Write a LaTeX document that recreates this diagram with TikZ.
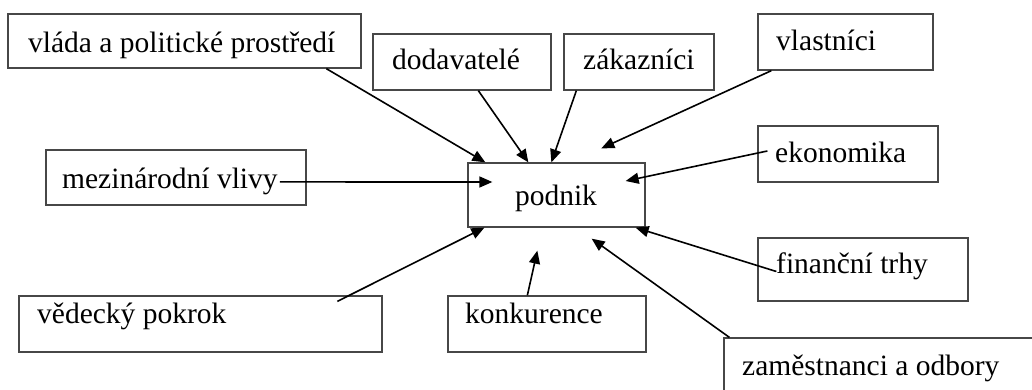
\documentclass[tikz,border=0pt]{standalone}
\usepackage{fontspec}
\setmainfont{Liberation Serif}
\usetikzlibrary{arrows.meta,calc}
\begin{document}
\begin{tikzpicture}[x=1pt,y=-1pt,
  box/.style={draw=black!72,line width=1.3pt,rectangle,inner sep=0pt},
  lbl/.style={anchor=base west,inner sep=0pt,font=\fontsize{29.5}{34}\selectfont},
  arr/.style={line width=1.6pt,-{Triangle[length=13pt,width=11pt]}}]
\useasboundingbox (0,0) rectangle (1032,390);
% boxes
\node[box,minimum width=353pt,minimum height=54pt] (vlada) at (184.5,41) {};
\node[box,minimum width=178pt,minimum height=56pt] (dodav) at (462,62) {};
\node[box,minimum width=150pt,minimum height=56pt] (zakaz) at (639,62) {};
\node[box,minimum width=175pt,minimum height=56pt] (vlast) at (845.5,42) {};
\node[box,minimum width=180pt,minimum height=56pt] (ekon) at (848,154) {};
\node[box,minimum width=260pt,minimum height=55pt] (mezin) at (176,177.5) {};
\node[box,minimum width=177pt,minimum height=64pt] (podnik) at (556.5,195) {};
\node[box,minimum width=363pt,minimum height=56pt] (vedec) at (200.5,324) {};
\node[box,minimum width=198pt,minimum height=56pt] (konk) at (547,324) {};
\node[box,minimum width=210pt,minimum height=63pt] (financ) at (863,269.5) {};
\node[box,minimum width=336pt,minimum height=72pt] (zamest) at (892,374) {};
% texts
\node[lbl] (vladaT) at (28,53) {vláda a politické prostředí};
\node[lbl] (dodavT) at (392,70) {dodavatelé};
\node[lbl] (zakazT) at (583,70) {zákazníci};
\node[lbl] (vlastT) at (776,51) {vlastníci};
\node[lbl] (ekonT) at (775,163) {ekonomika};
\node[lbl] (mezinT) at (62,189) {mezinárodní vlivy};
\node[lbl,anchor=base] (podnikT) at (556,205) {podnik};
\node[lbl] (vedecT) at (37,323) {vědecký pokrok};
\node[lbl] (konkT) at (465,323) {konkurence};
\node[lbl] (financT) at (776,273) {finanční trhy};
\node[lbl] (zamestT) at (742,375) {zaměstnanci a odbory};
% arrows
\draw[arr] ($(vlada.south west)+(319,0)$) -- ($(podnik.north west)+(18,0)$);
\draw[arr] ($(dodav.south west)+(106,0)$) -- ($(podnik.north west)+(61,0)$);
\draw[arr] ($(zakaz.south west)+(13,0)$) -- ($(podnik.north west)+(84,0)$);
\draw[arr] ($(vlast.south west)+(14,0)$) -- ($(podnik.north west)+(134,-14)$);
\draw[arr] ($(ekon.west)+(10,-3)$) -- ($(podnik.east)+(-20,-14)$);
\draw[arr] ($(mezinT.east)+(2,0)$) -- ($(podnik.west)+(25,-13)$);
\draw[arr] ($(vedec.north west)+(319,6)$) -- ($(podnik.south west)+(17,0)$);
\draw[arr] ($(konk.north west)+(80,0)$) -- ($(podnik.south west)+(70,23)$);
\draw[arr] ($(financ.west)+(19,2)$) -- ($(podnik.south east)+(-10,0)$);
\draw[arr] ($(zamest.north west)+(6,0)$) -- ($(podnik.south east)+(-54,11)$);
\end{tikzpicture}
\end{document}
